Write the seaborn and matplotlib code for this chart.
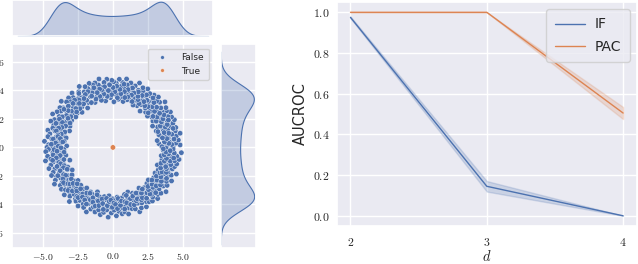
import numpy as np
import pandas as pd
import matplotlib
matplotlib.use("Agg")
import matplotlib.pyplot as plt
import seaborn as sns
from matplotlib.ticker import FuncFormatter, MultipleLocator

# ring data (angle in degrees, radius)
ring_deg = [
    0.4, 1.3, 2.1, 2.6, 3.8, 4.5, 5.1, 6.3, 7.0, 7.4, 8.6, 9.5, 10.2, 11.1, 11.7, 12.9, 13.4, 14.6, 15.2, 16.0, 17.3, 17.8,
    18.9, 19.5, 20.4, 21.6, 22.1, 23.0, 23.9, 24.3, 25.5, 26.2, 27.1, 27.8, 28.7, 29.9, 30.4, 31.2, 32.5, 33.0, 33.8, 35.1, 35.6,
    36.4, 37.5, 38.2, 38.9, 40.1, 40.7, 41.6, 42.3, 43.5, 44.0, 44.9, 46.1, 46.6, 47.4, 48.5, 49.2, 50.0, 51.3, 51.8, 52.7, 53.9,
    54.4, 55.2, 56.3, 57.1, 57.6, 58.8, 59.5, 60.3, 61.4, 62.0, 62.9, 64.1, 64.5, 65.6, 66.3, 67.2, 68.0, 69.1, 69.7, 70.5, 71.8,
    72.3, 73.1, 74.2, 74.9, 75.6, 76.8, 77.3, 78.5, 79.0, 79.9, 81.2, 81.7, 82.6, 83.4, 84.5, 85.0, 86.2, 86.9, 87.5, 88.7, 89.3,
    90.4, 91.0, 92.1, 92.8, 93.6, 94.7, 95.2, 96.4, 97.1, 97.9, 99.0, 99.6, 100.5, 101.7, 102.2, 103.3, 103.9, 105.0, 105.8, 106.4, 107.6,
    108.1, 109.2, 110.0, 110.7, 111.9, 112.4, 113.5, 114.3, 115.0, 116.2, 116.8, 117.7, 118.9, 119.3, 120.4, 121.2, 122.0, 123.1, 123.8, 124.6, 125.7,
    126.3, 127.4, 128.0, 129.1, 129.8, 130.6, 131.8, 132.3, 133.2, 134.4, 134.9, 136.0, 136.8, 137.5, 138.7, 139.2, 140.3, 141.1, 141.9, 143.0, 143.6,
    144.5, 145.6, 146.2, 147.3, 147.9, 148.8, 150.0, 150.5, 151.4, 152.6, 153.1, 154.2, 154.9, 155.7, 156.8, 157.4, 158.3, 159.5, 160.0, 161.1, 161.8,
    162.6, 163.7, 164.3, 165.4, 166.1, 166.9, 168.0, 168.6, 169.5, 170.7, 171.2, 172.3, 173.0, 173.8, 175.0, 175.5, 176.4, 177.6, 178.1, 179.2, 179.9,
    180.7, 181.8, 182.4, 183.5, 184.1, 185.0, 186.2, 186.7, 187.6, 188.8, 189.3, 190.4, 191.1, 191.9, 193.0, 193.6, 194.5, 195.7, 196.2, 197.3, 198.0,
    198.8, 199.9, 200.5, 201.6, 202.3, 203.1, 204.2, 204.8, 205.7, 206.9, 207.4, 208.5, 209.2, 210.0, 211.1, 211.7, 212.6, 213.8, 214.3, 215.4, 216.1,
    216.9, 218.0, 218.6, 219.5, 220.7, 221.2, 222.3, 223.0, 223.8, 225.0, 225.5, 226.4, 227.6, 228.1, 229.2, 229.9, 230.7, 231.8, 232.4, 233.5, 234.2,
    235.0, 236.1, 236.7, 237.6, 238.8, 239.3, 240.4, 241.1, 241.9, 243.0, 243.6, 244.5, 245.7, 246.2, 247.3, 248.0, 248.8, 249.9, 250.5, 251.6, 252.3,
    253.1, 254.2, 254.8, 255.7, 256.9, 257.4, 258.5, 259.2, 260.0, 261.1, 261.7, 262.6, 263.8, 264.3, 265.4, 266.1, 266.9, 268.0, 268.6, 269.5, 270.7,
    271.2, 272.3, 273.0, 273.8, 275.0, 275.5, 276.4, 277.6, 278.1, 279.2, 279.9, 280.7, 281.8, 282.4, 283.5, 284.1, 285.0, 286.2, 286.7, 287.6, 288.8,
    289.3, 290.4, 291.1, 291.9, 293.0, 293.6, 294.5, 295.7, 296.2, 297.3, 298.0, 298.8, 299.9, 300.5, 301.6, 302.3, 303.1, 304.2, 304.8, 305.7, 306.9,
    307.4, 308.5, 309.2, 310.0, 311.1, 311.7, 312.6, 313.8, 314.3, 315.4, 316.1, 316.9, 318.0, 318.6, 319.5, 320.7, 321.2, 322.3, 323.0, 323.8, 325.0,
    325.5, 326.4, 327.6, 328.1, 329.2, 329.9, 330.7, 331.8, 332.4, 333.5, 334.1, 335.0, 336.2, 336.7, 337.6, 338.8, 339.3, 340.4, 341.1, 341.9, 343.0,
    343.6, 344.5, 345.7, 346.2, 347.3, 348.0, 348.8, 349.9, 350.5, 351.6, 352.3, 353.1, 354.2, 354.8, 355.7, 356.9, 357.4, 358.5, 359.2,
    0.9, 2.8, 4.1, 6.0, 7.7, 9.1, 10.8, 12.4, 14.0, 15.9, 17.2, 19.0, 20.9, 22.5, 24.0, 25.8, 27.4, 29.2, 30.8, 32.1, 34.0,
    35.7, 37.2, 39.0, 40.4, 42.1, 43.9, 45.5, 47.0, 48.8, 50.5, 52.1, 53.6, 55.4, 57.0, 58.6, 60.1, 61.9, 63.5, 65.0, 66.8,
    68.5, 70.1, 71.4, 73.3, 75.0, 76.4, 78.1, 79.8, 81.5, 83.0, 84.7, 86.4, 88.0, 89.8, 91.5, 93.1, 94.6, 96.4, 98.0, 99.8,
    101.3, 103.0, 104.6, 106.2, 108.0, 109.6, 111.1, 112.9, 114.6, 116.0, 117.9, 119.6, 121.0, 122.7, 124.4, 126.0, 127.8, 129.4, 131.0, 132.7,
    134.2, 136.1, 137.7, 139.4, 141.0, 142.6, 144.3, 146.0, 147.5, 149.3, 150.9, 152.4, 154.1, 155.9, 157.5, 159.0, 160.8, 162.4, 164.0, 165.7,
    167.3, 169.0, 170.6, 172.1, 173.9, 175.6, 177.1, 178.8, 180.4, 182.1, 183.8, 185.5, 187.0, 188.6, 190.3, 191.9, 193.6, 195.3, 197.0, 198.5,
    200.2, 201.9, 203.5, 205.1, 206.7, 208.4, 210.1, 211.8, 213.3, 215.0, 216.7, 218.3, 220.0, 221.6, 223.3, 225.0, 226.5, 228.2, 229.8, 231.5,
    233.1, 234.8, 236.5, 238.0, 239.7, 241.4, 243.1, 244.6, 246.3, 248.0, 249.6, 251.3, 252.9, 254.5, 256.2, 257.9, 259.5, 261.1, 262.8, 264.5,
    266.1, 267.7, 269.4, 271.0, 272.7, 274.4, 276.0, 277.6, 279.3, 281.0, 282.6, 284.2, 285.9, 287.6, 289.2, 290.8, 292.5, 294.1, 295.8, 297.4,
    299.1, 300.8, 302.4, 304.0, 305.7, 307.3, 309.0, 310.7, 312.3, 313.9, 315.6, 317.2, 318.9, 320.5, 322.2, 323.9, 325.5, 327.1, 328.8, 330.4,
    332.1, 333.8, 335.4, 337.0, 338.7, 340.3, 342.0, 343.7, 345.3, 346.9, 348.6, 350.2, 351.9, 353.6, 355.2, 356.8, 358.5,
]
ring_r = [
    4.3, 3.6, 4.8, 3.9, 4.5, 3.3, 4.1, 4.7, 3.7, 4.4, 3.2, 4.0, 4.6, 3.8, 4.9, 3.5, 4.2, 4.6, 3.4, 4.0, 4.7, 4.1,
    3.8, 4.4, 3.3, 4.6, 4.1, 3.7, 4.8, 3.5, 4.3, 3.9, 4.7, 3.2, 4.5, 4.0, 3.6, 4.8, 4.2, 3.4, 4.6, 3.9, 4.3,
    4.7, 3.5, 4.1, 4.4, 3.8, 4.9, 3.3, 4.2, 4.6, 3.7, 4.0, 4.5, 3.4, 4.8, 3.9, 4.3, 3.6, 4.7, 4.1, 3.2, 4.5,
    4.0, 4.6, 3.6, 4.3, 3.9, 4.8, 3.4, 4.2, 4.5, 3.7, 4.7, 3.3, 4.1, 4.4, 3.8, 4.9, 3.5, 4.0, 4.6, 4.2, 3.7,
    4.4, 3.5, 4.7, 4.0, 3.8, 4.5, 3.3, 4.9, 4.2, 3.6, 4.6, 3.9, 4.3, 3.4, 4.8, 4.1, 3.7, 4.5, 4.0, 3.2, 4.6,
    3.9, 4.7, 4.2, 3.5, 4.4, 3.8, 4.8, 3.6, 4.1, 4.6, 3.3, 4.3, 4.0, 4.9, 3.7, 4.5, 3.4, 4.2, 4.7, 3.9, 4.1,
    4.6, 3.7, 4.3, 4.8, 3.4, 4.0, 4.5, 3.9, 4.7, 3.5, 4.2, 4.4, 3.6, 4.9, 3.8, 4.1, 4.6, 3.3, 4.3, 4.0, 3.7,
    4.2, 4.8, 3.6, 4.5, 3.9, 4.1, 3.3, 4.7, 4.4, 3.8, 4.0, 4.6, 3.5, 4.3, 4.9, 3.7, 4.2, 3.4, 4.5, 4.1, 4.7,
    3.8, 4.5, 4.0, 3.5, 4.7, 4.2, 3.6, 4.4, 4.9, 3.9, 4.1, 3.4, 4.6, 4.3, 3.7, 4.8, 4.0, 3.3, 4.5, 4.2, 3.9,
    4.5, 3.6, 4.3, 4.8, 4.0, 3.7, 4.6, 3.4, 4.1, 4.7, 3.9, 4.4, 3.5, 4.2, 4.9, 3.8, 4.0, 4.6, 3.3, 4.3, 4.7,
    4.1, 4.6, 3.5, 4.8, 3.9, 4.3, 4.0, 3.6, 4.7, 4.2, 3.4, 4.5, 4.9, 3.8, 4.1, 4.4, 3.7, 4.6, 3.2, 4.0, 4.8,
    3.7, 4.4, 4.1, 3.9, 4.6, 3.5, 4.8, 4.2, 3.6, 4.5, 4.0, 3.3, 4.7, 4.3, 3.8, 4.9, 4.1, 3.5, 4.4, 4.6, 3.9,
    4.3, 3.8, 4.7, 4.0, 3.6, 4.5, 4.2, 3.4, 4.8, 3.9, 4.4, 4.1, 3.7, 4.6, 3.5, 4.3, 4.9, 3.8, 4.0, 4.5, 3.6,
    4.6, 4.1, 3.4, 4.4, 4.8, 3.7, 4.2, 3.9, 4.5, 3.5, 4.7, 4.0, 3.6, 4.3, 4.9, 3.8, 4.1, 4.6, 3.3, 4.4, 4.2,
    3.9, 4.7, 3.6, 4.2, 4.5, 3.8, 4.0, 4.8, 3.5, 4.3, 4.6, 3.7, 4.1, 4.4, 3.4, 4.9, 3.9, 4.2, 4.6, 3.6, 4.0,
    4.4, 3.7, 4.8, 4.1, 3.5, 4.5, 4.0, 3.8, 4.7, 4.3, 3.6, 4.6, 3.9, 4.2, 4.8, 3.4, 4.4, 4.1, 3.7, 4.5, 3.3,
    4.2, 4.6, 3.8, 4.0, 4.9, 3.5, 4.3, 4.7, 3.6, 4.1, 4.4, 3.9, 4.8, 3.7, 4.2, 4.5, 3.4, 4.6, 4.0, 3.8, 4.7,
    4.0, 3.6, 4.5, 4.3, 3.8, 4.8, 4.1, 3.5, 4.6, 4.2, 3.9, 4.7, 3.4, 4.4, 4.0, 4.9, 3.7, 4.3, 4.5, 3.6, 4.1,
    4.7, 3.9, 4.2, 4.5, 3.5, 4.0, 4.8, 3.7, 4.4, 4.1, 3.6, 4.6, 4.3, 3.8, 4.9, 3.4, 4.2, 4.5, 3.9, 4.0, 4.6,
    3.8, 4.3, 4.7, 3.6, 4.1, 4.5, 3.9, 4.8, 3.5, 4.2, 4.6, 4.0, 3.7, 4.4, 4.9, 3.6, 4.1, 4.3, 3.8,
    3.5, 4.2, 4.0, 3.7, 4.4, 3.9, 3.6, 4.3, 4.1, 3.8, 4.5, 3.4, 4.0, 4.2, 3.7, 4.4, 3.9, 4.1, 3.6, 4.3, 3.8,
    4.1, 3.6, 4.4, 3.9, 4.2, 3.5, 4.0, 4.3, 3.8, 4.5, 3.7, 4.1, 3.9, 4.4, 3.6, 4.2, 3.8, 4.0, 4.3, 3.5, 4.1,
    3.9, 4.4, 3.7, 4.2, 3.6, 4.0, 4.5, 3.8, 4.1, 3.5, 4.3, 3.9, 4.2, 3.7, 4.4, 4.0, 3.6, 4.3, 3.8, 4.1,
    4.2, 3.7, 4.0, 4.4, 3.6, 4.1, 3.9, 4.3, 3.5, 4.2, 3.8, 4.0, 4.5, 3.7, 4.1, 3.9, 4.3, 3.6, 4.2, 3.8,
    3.6, 4.3, 3.9, 4.1, 4.4, 3.7, 4.0, 3.8, 4.2, 3.5, 4.3, 4.0, 3.7, 4.4, 3.9, 4.1, 3.6, 4.2, 3.8, 4.0,
    4.0, 3.8, 4.3, 3.6, 4.1, 4.4, 3.9, 3.7, 4.2, 4.0, 3.5, 4.3, 3.8, 4.1, 4.4, 3.6, 4.0, 3.9, 4.2, 3.7,
    3.8, 4.1, 3.6, 4.4, 4.0, 3.9, 4.2, 3.5, 4.3, 3.7, 4.1, 4.0, 3.8, 4.4, 3.6, 4.2, 3.9, 4.0, 3.7, 4.3,
    4.3, 3.9, 4.1, 3.7, 4.2, 3.6, 4.4, 4.0, 3.8, 4.1, 3.5, 4.3, 3.9, 4.2, 3.7, 4.0, 4.4, 3.6, 4.1, 3.8,
    3.7, 4.2, 3.9, 4.0, 4.3, 3.6, 4.1, 3.8, 4.4, 3.9, 4.0, 3.5, 4.2, 3.8, 4.3, 3.7, 4.1, 4.0, 3.6, 4.2,
    4.1, 3.8, 4.3, 3.6, 4.0, 4.2, 3.9, 3.7, 4.4, 4.0, 3.8, 4.1, 3.6, 4.3, 3.9, 4.2, 3.7, 4.0, 4.4, 3.8,
    3.9, 4.2, 3.7, 4.1, 4.0, 3.6, 4.3, 3.8, 4.2, 3.9, 4.4, 3.7, 4.0, 3.8, 4.1, 3.6, 4.3,
]
outlier_x = [0.0]
outlier_y = [0.0]

# AUCROC replicates per dimension
dims = [2, 3, 4]
if_runs = {2: [0.97, 0.975, 0.975, 0.98], 3: [0.115, 0.135, 0.155, 0.175], 4: [0.0, 0.0, 0.0, 0.0]}
pac_runs = {2: [1.0, 1.0, 1.0, 1.0], 3: [1.0, 1.0, 1.0, 1.0], 4: [0.47, 0.495, 0.515, 0.54]}

sns.set_theme(style="darkgrid")
plt.rcParams["mathtext.fontset"] = "cm"

n = min(len(ring_deg), len(ring_r))
theta = np.deg2rad(np.array(ring_deg[:n]))
rad = np.array(ring_r[:n])
ring_x = rad * np.cos(theta)
ring_y = rad * np.sin(theta)

pts = pd.DataFrame({
    "x": np.concatenate([ring_x, outlier_x]),
    "y": np.concatenate([ring_y, outlier_y]),
    "label": ["False"] * n + ["True"] * len(outlier_x),
})

fig = plt.figure(figsize=(6.38, 2.64), dpi=100)
ax = fig.add_axes([0.0188, 0.0606, 0.3152, 0.7727])
ax_top = fig.add_axes([0.0188, 0.864, 0.3152, 0.136], sharex=ax)
ax_side = fig.add_axes([0.346, 0.0606, 0.055, 0.7727], sharey=ax)

blue, orange = sns.color_palette()[0], sns.color_palette()[1]
sns.scatterplot(data=pts, x="x", y="y", hue="label", palette=[blue, orange],
                s=15, linewidth=0.3, edgecolor="white", ax=ax)
ax.set_xlim(-7.2, 7.15)
ax.set_ylim(-7.05, 7.25)
ax.xaxis.set_major_locator(MultipleLocator(2.5))
ax.yaxis.set_major_locator(MultipleLocator(2))
ax.xaxis.set_major_formatter(FuncFormatter(lambda v, p: f"${v:.1f}$"))
ax.yaxis.set_major_formatter(FuncFormatter(lambda v, p: f"${v:.0f}$"))
ax.tick_params(axis="x", labelsize=7, length=0, pad=2)
ax.tick_params(axis="y", labelsize=7, length=0, pad=5.5)
ax.set_xlabel("")
ax.set_ylabel("")
ax.legend(loc="upper right", fontsize=6.5, markerscale=0.7, handletextpad=1.2, borderpad=0.5)

ring_only = pts[pts["label"] == "False"]
sns.kdeplot(x=ring_only["x"], ax=ax_top, fill=True, color=blue, bw_adjust=0.8, linewidth=0.8)
sns.kdeplot(y=ring_only["y"], ax=ax_side, fill=True, color=blue, bw_adjust=0.8, linewidth=0.8)
for a in (ax_top, ax_side):
    a.set_xlabel("")
    a.set_ylabel("")
    a.tick_params(labelbottom=False, labelleft=False, length=0)
ax_top.yaxis.grid(False)
ax_side.xaxis.grid(False)
ax_top.set_ylim(bottom=0)
ax_side.set_xlim(left=0)

# right panel
rows = []
for d in dims:
    for v in if_runs[d]:
        rows.append({"d": d, "AUCROC": v, "method": "IF"})
    for v in pac_runs[d]:
        rows.append({"d": d, "AUCROC": v, "method": "PAC"})
res = pd.DataFrame(rows)

ax2 = fig.add_axes([0.528, 0.144, 0.47, 0.848])
sns.lineplot(data=res, x="d", y="AUCROC", hue="method", errorbar="sd", linewidth=1.0, ax=ax2)
ax2.set_xticks(dims)
ax2.xaxis.set_major_formatter(FuncFormatter(lambda v, p: f"${v:.0f}$"))
ax2.yaxis.set_major_formatter(FuncFormatter(lambda v, p: f"${v:.1f}$"))
ax2.tick_params(axis="x", labelsize=8.5, length=0, pad=7)
ax2.tick_params(axis="y", labelsize=8.5, length=0, pad=5)
ax2.set_xlabel("$d$", fontsize=10.5, labelpad=0)
ax2.set_ylabel("AUCROC", fontsize=10.5, labelpad=4)
ax2.legend(loc="upper right", fontsize=10, title=None, handlelength=2.2,
           handletextpad=0.7, borderpad=0.6, labelspacing=0.6)

fig.savefig("out.png", dpi=100)
